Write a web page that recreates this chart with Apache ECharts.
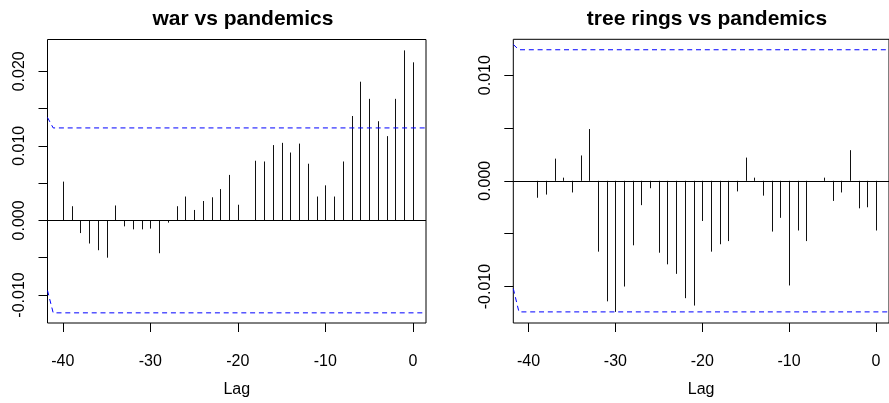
<!DOCTYPE html>
<html>
<head>
<meta charset="utf-8">
<script src="https://cdn.jsdelivr.net/npm/echarts@6/dist/echarts.min.js"></script>
<style>
html, body { margin: 0; padding: 0; background: #fff; }
#container { width: 889px; height: 403px; }
</style>
</head>
<body>
<div id="container"></div>
<script>
var lags = [-40, -39, -38, -37, -36, -35, -34, -33, -32, -31, -30,
    -29, -28, -27, -26, -25, -24, -23, -22, -21, -20,
    -19, -18, -17, -16, -15, -14, -13, -12, -11, -10,
    -9, -8, -7, -6, -5, -4, -3, -2, -1, 0];

var warVsPandemics = [0.0052, 0.0019, -0.0017, -0.0031, -0.0040, -0.0050, 0.0020, -0.0008, -0.0012, -0.0012, -0.0011,
    -0.0044, -0.0003, 0.0019, 0.0032, 0.0014, 0.0026, 0.0031, 0.0042, 0.0061, 0.0021,
    0.0000, 0.0080, 0.0079, 0.0101, 0.0104, 0.0091, 0.0103, 0.0076, 0.0032, 0.0047,
    0.0032, 0.0079, 0.0140, 0.0186, 0.0163, 0.0133, 0.0113, 0.0163, 0.0228, 0.0212];

var treeVsPandemics = [0.0000, -0.0016, -0.0013, 0.0021, 0.0003, -0.0011, 0.0024, 0.0049, -0.0067, -0.0114, -0.0124,
    -0.0100, -0.0061, -0.0023, -0.0007, -0.0068, -0.0079, -0.0088, -0.0111, -0.0118, -0.0038,
    -0.0067, -0.0060, -0.0057, -0.0010, 0.0022, 0.0003, -0.0014, -0.0048, -0.0035, -0.0099,
    -0.0047, -0.0057, 0.0000, 0.0003, -0.0019, -0.0011, 0.0029, -0.0026, -0.0025, -0.0047];

// confidence bands (blue dashed), with the little kink at the left edge
var ciLags = [-41.75, -41.1, 1.5];
var warCiUpper = [0.0138, 0.0124, 0.0124];
var warCiLower = [-0.0094, -0.0124, -0.0124];
var treeCiUpper = [0.0129, 0.0124, 0.0124];
var treeCiLower = [-0.0102, -0.0124, -0.0124];

var xTicks = [-40, -30, -20, -10, 0];
var warYTicks = [-0.01, -0.005, 0, 0.005, 0.01, 0.015, 0.02];
var warYLabels = [-0.01, 0, 0.01, 0.02];
var treeYTicks = [-0.01, -0.005, 0, 0.005, 0.01];
var treeYLabels = [-0.01, 0, 0.01];

var titles = ['war vs pandemics', 'tree rings vs pandemics'];

var font = 'Liberation Sans';

function pairs(xs, ys) {
    var out = [];
    for (var i = 0; i < xs.length; i++) out.push([xs[i], ys[i]]);
    return out;
}

function spikes(params, api) {
    var p0 = api.coord([api.value(0), 0]);
    var p1 = api.coord([api.value(0), api.value(1)]);
    var x = Math.round(p0[0]) + 0.5;
    return {
        type: 'line',
        shape: { x1: x, y1: p0[1], x2: x, y2: p1[1] },
        style: { stroke: '#111', lineWidth: 1 }
    };
}

function xAxisFor(i) {
    return {
        type: 'value', gridIndex: i, min: -41.75, max: 1.5,
        name: 'Lag', nameLocation: 'middle', nameGap: 59,
        nameTextStyle: { fontFamily: font, fontSize: 16, color: '#000' },
        axisLine: { show: false, onZero: false },
        axisTick: { show: true, length: 9, customValues: xTicks, lineStyle: { color: '#000' } },
        axisLabel: { customValues: xTicks, fontFamily: font, fontSize: 16, color: '#000', margin: 31 },
        splitLine: { show: false }
    };
}

function yAxisFor(i, min, max, ticks, labels) {
    return {
        type: 'value', gridIndex: i, min: min, max: max,
        axisLine: { show: false, onZero: false },
        axisTick: { show: true, length: 9, customValues: ticks, lineStyle: { color: '#000' } },
        axisLabel: {
            customValues: labels, rotate: 90, fontFamily: font, fontSize: 16, color: '#000', margin: 20,
            formatter: function (v) { return v.toFixed(3); }
        },
        splitLine: { show: false }
    };
}

function ciSeries(i, ys) {
    return {
        type: 'line', xAxisIndex: i, yAxisIndex: i, data: pairs(ciLags, ys),
        symbol: 'none', silent: true, clip: true,
        lineStyle: { color: '#0000ff', width: 1, type: [5, 3.8] }
    };
}

var dom = document.getElementById("container");
var myChart = echarts.init(dom);

option = {
    animation: false,
    backgroundColor: '#fff',
    title: [
        { text: titles[0], left: 238, top: 4, textAlign: 'center',
          textStyle: { fontFamily: font, fontSize: 21, fontWeight: 'bold', color: '#000' } },
        { text: titles[1], left: 702, top: 4, textAlign: 'center',
          textStyle: { fontFamily: font, fontSize: 21, fontWeight: 'bold', color: '#000' } }
    ],
    grid: [
        { left: 47.5, top: 39.5, width: 378.5, height: 286.5, show: true, borderColor: '#000', borderWidth: 1, backgroundColor: 'transparent' },
        { left: 513.3, top: 39.3, width: 378.3, height: 286.7, show: true, borderColor: '#000', borderWidth: 1, backgroundColor: 'transparent' }
    ],
    xAxis: [xAxisFor(0), xAxisFor(1)],
    yAxis: [
        yAxisFor(0, -0.01376, 0.02426, warYTicks, warYLabels),
        yAxisFor(1, -0.01345, 0.01339, treeYTicks, treeYLabels)
    ],
    series: [
        { type: 'custom', xAxisIndex: 0, yAxisIndex: 0, data: pairs(lags, warVsPandemics), renderItem: spikes,
          markLine: { silent: true, symbol: 'none', label: { show: false },
                      lineStyle: { color: '#000', width: 1, type: 'solid' }, data: [{ yAxis: 0 }] } },
        { type: 'custom', xAxisIndex: 1, yAxisIndex: 1, data: pairs(lags, treeVsPandemics), renderItem: spikes,
          markLine: { silent: true, symbol: 'none', label: { show: false },
                      lineStyle: { color: '#000', width: 1, type: 'solid' }, data: [{ yAxis: 0 }] } },
        ciSeries(0, warCiUpper),
        ciSeries(0, warCiLower),
        ciSeries(1, treeCiUpper),
        ciSeries(1, treeCiLower)
    ]
};

if (option && typeof option === "object") {
    myChart.setOption(option, true);
}
</script>
</body>
</html>
